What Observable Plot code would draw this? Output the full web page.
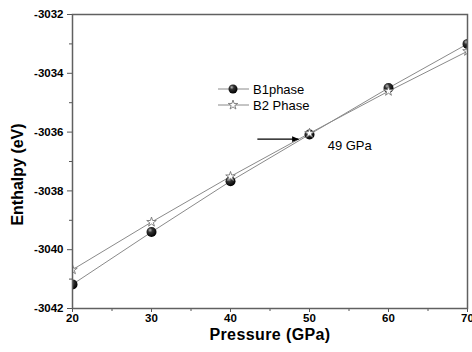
<!DOCTYPE html>
<html>
<head>
<meta charset="utf-8">
<script src="https://cdn.jsdelivr.net/npm/d3@7"></script>
<script src="https://cdn.jsdelivr.net/npm/@observablehq/plot@0.6"></script>
<style>
  html, body { margin: 0; padding: 0; background: #fff; }
  #chart { width: 472px; height: 352px; }
</style>
</head>
<body>
<div id="chart"></div>
<script>
// ---- data ----
const pressure = [20, 30, 40, 50, 60, 70];
const b1Enthalpy = [-3041.18, -3039.40, -3037.67, -3036.08, -3034.50, -3033.00];
const b2Enthalpy = [-3040.68, -3039.06, -3037.51, -3036.04, -3034.61, -3033.25];
const seriesNames = ["B1phase", "B2 Phase"];
const xTicks = [20, 30, 40, 50, 60, 70];
const xMinorTicks = [25, 35, 45, 55, 65];
const yTicks = [-3042, -3040, -3038, -3036, -3034, -3032];
const yMinorTicks = [-3041, -3039, -3037, -3035, -3033];
const arrowFromX = [43.4];
const arrowToX = [48.6];
const arrowY = [-3036.24];
const annotationText = ["49 GPa"];
const annotationX = [52.3];
const annotationY = [-3036.45];

const b1 = pressure.map((p, i) => ({p, h: b1Enthalpy[i]}));
const b2 = pressure.map((p, i) => ({p, h: b2Enthalpy[i]}));
const arrows = arrowFromX.map((x1, i) => ({x1, x2: arrowToX[i], y: arrowY[i]}));
const notes = annotationText.map((t, i) => ({t, x: annotationX[i], y: annotationY[i]}));

const FONT = "Arial, 'Liberation Sans', Helvetica, sans-serif";
const AX = "#555";

function filledArrow(color, context) {
  const m = d3.create("svg:marker")
    .attr("viewBox", "0 -5 10 10")
    .attr("markerWidth", 8).attr("markerHeight", 7)
    .attr("refX", 9).attr("refY", 0)
    .attr("markerUnits", "userSpaceOnUse")
    .attr("orient", "auto");
  m.append("path").attr("d", "M0,-4L10,0L0,4Z").attr("fill", "#000").attr("stroke", "none");
  return m.node();
}

const plot = Plot.plot({
  width: 472,
  height: 352,
  marginLeft: 72,
  marginRight: 5,
  marginTop: 14,
  marginBottom: 44,
  style: {fontFamily: FONT, background: "#fff", color: "#000"},
  x: {domain: [20, 70]},
  y: {domain: [-3042, -3032]},
  marks: [
    Plot.axisX(xTicks, {tickSize: 4, tickPadding: 1, fontSize: 11.5, fontWeight: "bold", stroke: AX, fill: "#000", label: null}),
    Plot.axisX(xMinorTicks, {tickSize: 3, tickFormat: () => "", stroke: AX, label: null}),
    Plot.axisY(yTicks, {tickSize: 5, tickPadding: 4, fontSize: 11.5, fontWeight: "bold", stroke: AX, fill: "#000", label: null, tickFormat: d => String(d)}),
    Plot.axisY(yMinorTicks, {tickSize: 3, tickFormat: () => "", stroke: AX, label: null}),
    Plot.line(b1, {x: "p", y: "h", stroke: "#8a8a8a", strokeWidth: 1, clip: true}),
    Plot.line(b2, {x: "p", y: "h", stroke: "#8a8a8a", strokeWidth: 1, clip: true}),
    Plot.dot(b1, {x: "p", y: "h", r: 5, fill: "url(#sphere)", stroke: "none", clip: true}),
    Plot.dot(b2, {x: "p", y: "h", r: 3, symbol: "star", fill: "#fff", stroke: "#777", strokeWidth: 0.9, clip: true}),
    Plot.link(arrows, {x1: "x1", x2: "x2", y1: "y", y2: "y", stroke: "#000", strokeWidth: 1.2, markerEnd: filledArrow}),
    Plot.text(notes, {x: "x", y: "y", text: "t", textAnchor: "start", fontSize: 13, fill: "#000"}),
    Plot.text(["Pressure (GPa)"], {frameAnchor: "bottom", textAnchor: "middle", dy: 31, fontSize: 16, fontWeight: "bold", fill: "#000"}),
    Plot.text(["Enthalpy (eV)"], {frameAnchor: "left", textAnchor: "middle", dx: -55, dy: 13, rotate: -90, fontSize: 16, fontWeight: "bold", fill: "#000"}),
    Plot.frame({stroke: "#606060", strokeWidth: 1.5})
  ]
});

const svg = d3.select(plot);
const defs = svg.insert("defs", ":first-child");
const g = defs.append("radialGradient").attr("id", "sphere").attr("cx", "40%").attr("cy", "35%").attr("r", "65%").attr("fx", "35%").attr("fy", "30%");
g.append("stop").attr("offset", "0%").attr("stop-color", "#bbb");
g.append("stop").attr("offset", "35%").attr("stop-color", "#333");
g.append("stop").attr("offset", "100%").attr("stop-color", "#000");

svg.selectAll("text").filter(function() {
  return this.textContent === "Pressure (GPa)";
}).style("letter-spacing", "0.4px");

// legend (pixel layout)
const legend = svg.append("g").attr("font-family", FONT).attr("font-size", 13).attr("text-anchor", "start");
const rows = [{y: 89, name: seriesNames[0], kind: "dot"}, {y: 105, name: seriesNames[1], kind: "star"}];
rows.forEach(r => {
  legend.append("line").attr("x1", 218).attr("x2", 249).attr("y1", r.y).attr("y2", r.y).attr("stroke", "#8a8a8a");
  if (r.kind === "dot") {
    legend.append("circle").attr("cx", 233).attr("cy", r.y).attr("r", 4.5).attr("fill", "url(#sphere)");
  } else {
    legend.append("path").attr("d", d3.symbol(d3.symbolStar, 28)()).attr("transform", `translate(233,${r.y})`).attr("fill", "#fff").attr("stroke", "#777").attr("stroke-width", 0.9);
  }
  legend.append("text").attr("x", 253).attr("y", r.y).attr("dy", "0.35em").attr("fill", "#000").text(r.name);
});

document.getElementById("chart").appendChild(plot);
</script>
</body>
</html>
